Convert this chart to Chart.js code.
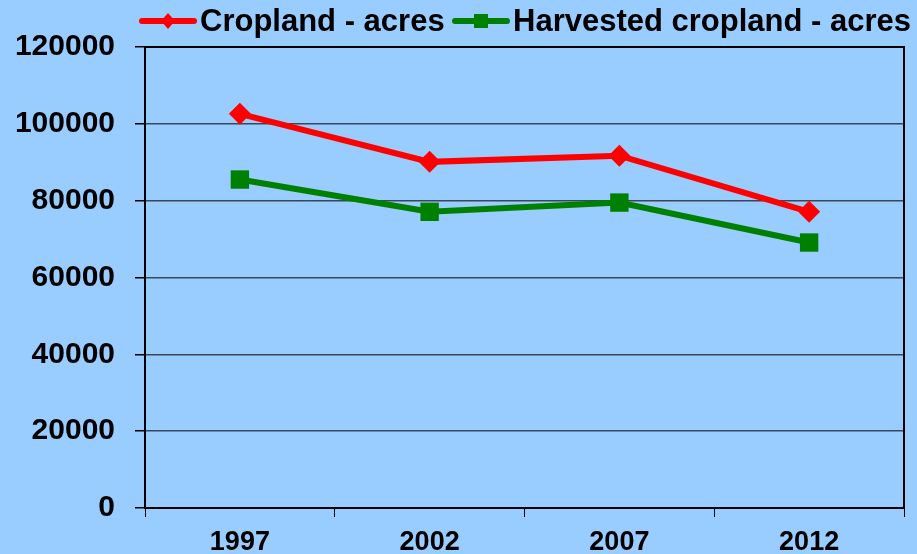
<!DOCTYPE html>
<html>
<head>
<meta charset="utf-8">
<script src="https://cdn.jsdelivr.net/npm/chart.js@4/dist/chart.umd.min.js"></script>
<style>
  html, body { margin: 0; padding: 0; background: #99ccff; }
  canvas { display: block; }
</style>
</head>
<body>
<canvas id="cropChart" width="917" height="554"></canvas>
<script>
// ─── data ───
const years = ['1997', '2002', '2007', '2012'];
const cropland = [102600, 90100, 91700, 77100];
const harvested = [85500, 77100, 79500, 69100];
const yTicks = [0, 20000, 40000, 60000, 80000, 100000, 120000];

const FONT = "Arial, 'Liberation Sans', sans-serif";

// frame round the plot area (right side + top)
const framePlugin = {
    id: 'frame',
    beforeDatasetsDraw: (chart) => {
        const { ctx, chartArea: a } = chart;
        ctx.save();
        ctx.strokeStyle = '#000';
        ctx.lineWidth = 2;
        ctx.strokeRect(a.left, a.top, a.right - a.left, a.bottom - a.top);
        ctx.restore();
    }
};

// legend: line with marker, then label, all on one row
const legendPlugin = {
    id: 'lineLegend',
    afterDraw: (chart) => {
        const ctx = chart.ctx;
        const items = [
            { x: 140, ds: chart.data.datasets[0] },
            { x: 453, ds: chart.data.datasets[1] }
        ];
        const y = 21;
        ctx.save();
        items.forEach(({ x, ds }) => {
            ctx.strokeStyle = ds.borderColor;
            ctx.lineWidth = 6;
            ctx.lineCap = 'round';
            ctx.beginPath();
            ctx.moveTo(x + 2, y);
            ctx.lineTo(x + 54, y);
            ctx.stroke();
            ctx.fillStyle = ds.borderColor;
            const cx = x + 28;
            if (ds.pointStyle === 'rectRot') {
                ctx.beginPath();
                ctx.moveTo(cx, y - 8);
                ctx.lineTo(cx + 7, y);
                ctx.lineTo(cx, y + 8);
                ctx.lineTo(cx - 7, y);
                ctx.closePath();
                ctx.fill();
            } else {
                ctx.fillRect(cx - 7, y - 7, 14, 14);
            }
            ctx.fillStyle = '#000';
            ctx.font = `bold 31px ${FONT}`;
            ctx.textBaseline = 'alphabetic';
            ctx.fillText(ds.label, x + 60, 31);
        });
        ctx.restore();
    }
};

new Chart(document.getElementById('cropChart').getContext('2d'), {
    type: 'line',
    data: {
        labels: years,
        datasets: [{
            label: 'Cropland - acres',
            data: cropland,
            borderColor: '#ff0000',
            backgroundColor: '#ff0000',
            borderWidth: 6,
            tension: 0,
            pointStyle: 'rectRot',
            pointRadius: 11,
            pointBorderWidth: 0,
            pointBackgroundColor: '#ff0000'
        }, {
            label: 'Harvested cropland - acres',
            data: harvested,
            borderColor: '#008000',
            backgroundColor: '#008000',
            borderWidth: 6,
            tension: 0,
            pointStyle: 'rect',
            pointRadius: 13,
            pointBorderWidth: 0,
            pointBackgroundColor: '#008000'
        }]
    },
    options: {
        responsive: false,
        animation: false,
        events: [],
        layout: { padding: { top: 47, right: 10, left: 0, bottom: 0 } },
        plugins: {
            legend: { display: false },
            tooltip: { enabled: false }
        },
        scales: {
            x: {
                offset: true,
                grid: { offset: true, drawOnChartArea: false, drawTicks: true, tickLength: 9, color: '#000', lineWidth: 1 },
                border: { color: '#000', width: 2 },
                ticks: { font: { family: FONT, size: 27, weight: 'bold' }, color: '#000', padding: 9, maxRotation: 0 },
                afterFit: s => { s.height = 46; }
            },
            y: {
                min: 0,
                max: 120000,
                afterBuildTicks: s => { s.ticks = yTicks.map(v => ({ value: v })); },
                ticks: { font: { family: FONT, size: 30, weight: 'bold' }, color: '#000', padding: 20, callback: v => String(v) },
                grid: { color: '#3c4656', lineWidth: 1.5, tickLength: 10, tickColor: '#000' },
                border: { color: '#000', width: 2 },
                afterFit: s => { s.width = 145; }
            }
        }
    },
    plugins: [framePlugin, legendPlugin]
});
</script>
</body>
</html>
